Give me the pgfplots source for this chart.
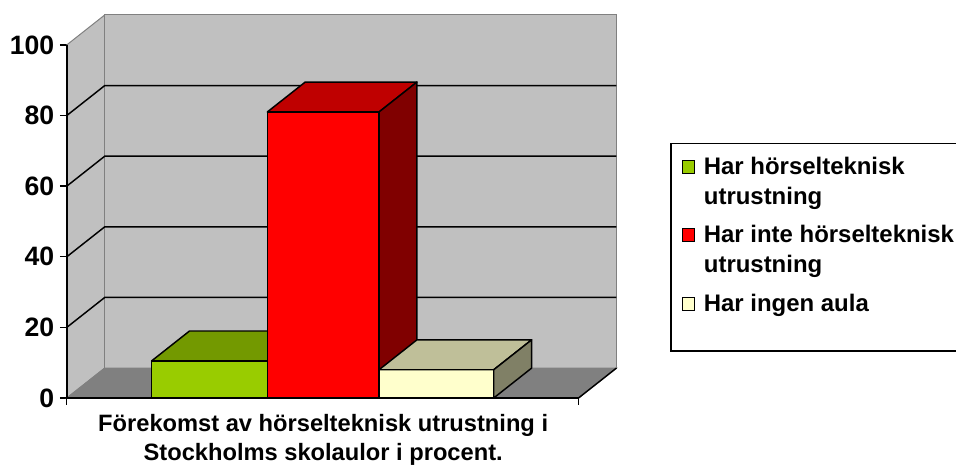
\documentclass[border=0pt]{standalone}
\usepackage{pgfplots}
\pgfplotsset{compat=1.18}
\usepackage{fontspec}
\setmainfont{Liberation Sans}
\definecolor{wall}{HTML}{C0C0C0}
\definecolor{floorc}{HTML}{808080}
\definecolor{edge}{HTML}{808080}
\definecolor{gfront}{HTML}{99CC00}
\definecolor{gtop}{HTML}{739900}
\definecolor{rfront}{HTML}{FF0000}
\definecolor{rtop}{HTML}{BF0000}
\definecolor{rside}{HTML}{800000}
\definecolor{yfront}{HTML}{FFFFCC}
\definecolor{ytop}{HTML}{BFBF99}
\definecolor{yside}{HTML}{808066}
\begin{document}
\begin{tikzpicture}
\begin{axis}[
  scale only axis, width=413.25pt, height=288pt,
  xmin=0, xmax=551, ymin=0, ymax=108.47,
  clip=false,
  axis line style={draw=none},
  xtick={0,513}, xticklabels={,}, xtick pos=bottom,
  ytick={0,20,...,100}, ytick pos=left,
  tick align=outside, major tick length=5.25pt,
  tick style={black, line width=1pt},
  /pgf/number format/assume math mode=true,
  yticklabel style={font=\bfseries\fontsize{20}{24}\selectfont, inner xsep=4pt},
  legend style={at={(axis cs:616.3,68.6)}, anchor=north west, draw=none, fill=none,
    inner sep=0pt, outer sep=0pt, row sep=0pt, column sep=3.5pt,
    font=\bfseries\fontsize{18}{22.5}\selectfont,
    nodes={inner xsep=3pt, inner ysep=0pt, anchor=base west, text height=14pt}},
]
% walls and floor
\addplot[fill=wall, draw=edge, line width=0.75pt, forget plot] coordinates {(0,0)(38,8.47)(38,108.47)(0,100)} -- cycle;
\addplot[fill=wall, draw=edge, line width=0.75pt, forget plot] coordinates {(38,8.47)(551,8.47)(551,108.47)(38,108.47)} -- cycle;
\addplot[fill=floorc, draw=edge, line width=0.75pt, forget plot] coordinates {(0,0)(513,0)(551,8.47)(38,8.47)} -- cycle;
% gridlines
\addplot[black, line width=1.1pt, forget plot] coordinates {(0,20)(38,28.47)(551,28.47)};
\addplot[black, line width=1.1pt, forget plot] coordinates {(0,40)(38,48.47)(551,48.47)};
\addplot[black, line width=1.1pt, forget plot] coordinates {(0,60)(38,68.47)(551,68.47)};
\addplot[black, line width=1.1pt, forget plot] coordinates {(0,80)(38,88.47)(551,88.47)};
\addplot[black, line width=1.1pt, forget plot] coordinates {(513,0)(551,8.47)};
% green bar (10.5)
\addplot[fill=gfront, draw=black, line width=1.1pt, line join=round, forget plot] coordinates {(85,0)(201,0)(201,10.5)(85,10.5)} -- cycle;
\addplot[fill=gtop, draw=black, line width=1.1pt, line join=round, forget plot] coordinates {(85,10.5)(201,10.5)(239,18.97)(123,18.97)} -- cycle;
% red bar (81)
\addplot[fill=rfront, draw=black, line width=1.1pt, line join=round, forget plot] coordinates {(201,0)(313,0)(313,81)(201,81)} -- cycle;
\addplot[fill=rtop, draw=black, line width=1.1pt, line join=round, forget plot] coordinates {(201,81)(313,81)(351,89.47)(239,89.47)} -- cycle;
\addplot[fill=rside, draw=black, line width=1.1pt, line join=round, forget plot] coordinates {(313,0)(351,8.47)(351,89.47)(313,81)} -- cycle;
% yellow bar (8)
\addplot[fill=yfront, draw=black, line width=1.1pt, line join=round, forget plot] coordinates {(313,0)(428,0)(428,8)(313,8)} -- cycle;
\addplot[fill=ytop, draw=black, line width=1.1pt, line join=round, forget plot] coordinates {(313,8)(428,8)(466,16.47)(351,16.47)} -- cycle;
\addplot[fill=yside, draw=black, line width=1.1pt, line join=round, forget plot] coordinates {(428,0)(466,8.47)(466,16.47)(428,8)} -- cycle;
% axis lines
\addplot[black, line width=1.1pt, forget plot] coordinates {(0,100)(0,0)(513,0)};
% legend frame (cut at right edge)
\addplot[black, line width=1.1pt, forget plot] coordinates {(891,72.03)(605.7,72.03)(605.7,13.28)(891,13.28)};
% legend
\addlegendimage{legend image code/.code={\draw[fill=gfront,draw=black,line width=0.8pt] (0pt,0.75pt) rectangle (9.5pt,10.5pt);}}
\addlegendentry[text depth=37.5pt]{\vtop{\hbox{Har hörselteknisk}\hbox{utrustning}}}
\addlegendimage{legend image code/.code={\draw[fill=rfront,draw=black,line width=0.8pt] (0pt,0.75pt) rectangle (9.5pt,10.5pt);}}
\addlegendentry[text depth=37.5pt]{\vtop{\hbox{Har inte hörselteknisk}\hbox{utrustning}}}
\addlegendimage{legend image code/.code={\draw[fill=yfront,draw=black,line width=0.8pt] (0pt,0.75pt) rectangle (9.5pt,10.5pt);}}
\addlegendentry[text depth=4pt]{Har ingen aula}
% x label
\node[anchor=base, inner sep=0pt, font=\bfseries\fontsize{17.8}{21.75}\selectfont] at (axis cs:257,-9.6)
  {\begin{tabular}[t]{@{}c@{}}Förekomst av hörselteknisk utrustning i\\Stockholms skolaulor i procent.\end{tabular}};
% bounding box
\path (axis cs:-67,-19.49) rectangle (axis cs:891,112.71);
\end{axis}
\end{tikzpicture}
\end{document}
